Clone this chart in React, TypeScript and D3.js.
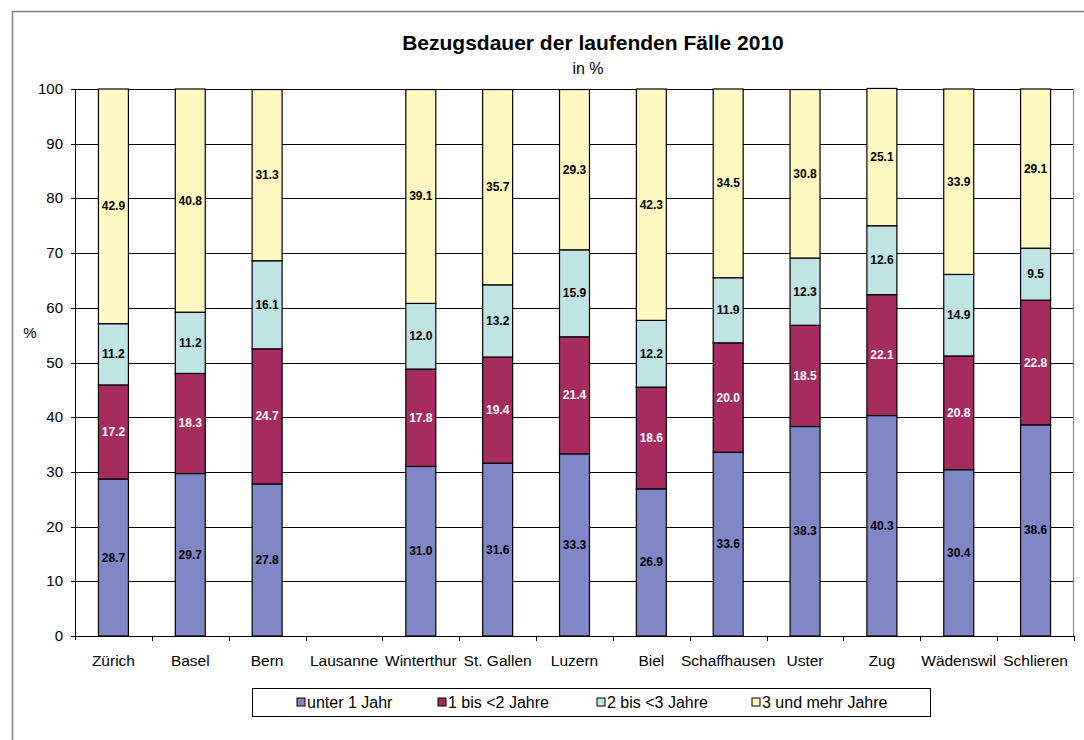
import React from 'react';
import * as d3 from 'd3';

const cities = ['Zürich', 'Basel', 'Bern', 'Lausanne', 'Winterthur', 'St. Gallen', 'Luzern', 'Biel', 'Schaffhausen', 'Uster', 'Zug', 'Wädenswil', 'Schlieren'];
const seriesNames = ['unter 1 Jahr', '1 bis <2 Jahre', '2 bis <3 Jahre', '3 und mehr Jahre'];
const under1 = [28.7, 29.7, 27.8, null, 31.0, 31.6, 33.3, 26.9, 33.6, 38.3, 40.3, 30.4, 38.6];
const y1to2 = [17.2, 18.3, 24.7, null, 17.8, 19.4, 21.4, 18.6, 20.0, 18.5, 22.1, 20.8, 22.8];
const y2to3 = [11.2, 11.2, 16.1, null, 12.0, 13.2, 15.9, 12.2, 11.9, 12.3, 12.6, 14.9, 9.5];
const y3plus = [42.9, 40.8, 31.3, null, 39.1, 35.7, 29.3, 42.3, 34.5, 30.8, 25.1, 33.9, 29.1];
const yTicks = [0, 10, 20, 30, 40, 50, 60, 70, 80, 90, 100];

const colors = ['#8087C6', '#A62B5E', '#C0E3E3', '#FFF8C0'];
const labelColors = ['#000', '#fff', '#000', '#000'];
const font = 'Arial, "Liberation Sans", sans-serif';

const App = () => {
  const left = 75, right = 1074, top = 89, bottom = 636;
  const x = d3.scaleBand<string>().domain(cities).range([left, right]).paddingInner(0.61).paddingOuter(0.305);
  const y = d3.scaleLinear().domain([0, 100]).range([bottom, top]);
  const step = x.step();

  const rows = cities.map((c, i) => ({
    city: c,
    v0: under1[i], v1: y1to2[i], v2: y2to3[i], v3: y3plus[i],
  }));
  const stack = d3.stack<any>().keys(['v0', 'v1', 'v2', 'v3']).value((d, k) => d[k] ?? 0)(rows);

  const legendX = [297, 438, 597, 752];

  return (
    <svg width={1084} height={740} style={{ position: 'absolute', left: 0, top: 0 }} fontFamily={font}>
      <rect x={0} y={0} width={1084} height={740} fill="#fff" />
      <rect x={12.5} y={11.5} width={1100} height={760} fill="none" stroke="#808080" strokeWidth={1.5} />
      <text x={593} y={50} textAnchor="middle" fontSize={21} fontWeight="bold">Bezugsdauer der laufenden Fälle 2010</text>
      <text x={588} y={74} textAnchor="middle" fontSize={16}>in %</text>

      {yTicks.map(t => (
        <g key={t}>
          <line x1={left - 4} x2={right} y1={Math.round(y(t)) + 0.5} y2={Math.round(y(t)) + 0.5} stroke="#000" strokeWidth={1} />
          <text x={63} y={y(t) + 5} textAnchor="end" fontSize={15}>{t}</text>
        </g>
      ))}
      <line x1={right - 0.5} x2={right - 0.5} y1={top} y2={bottom} stroke="#808080" />
      <line x1={left + 0.5} x2={left + 0.5} y1={top} y2={bottom + 4} stroke="#000" />
      {cities.map((c, i) => (
        <line key={c} x1={Math.round(left + step * (i + 1)) + 0.5} x2={Math.round(left + step * (i + 1)) + 0.5} y1={bottom} y2={bottom + 5} stroke="#000" />
      ))}
      <text x={30} y={338} textAnchor="middle" fontSize={15}>%</text>

      {stack.map((s, si) => (
        <g key={si}>
          {s.map((d, i) => {
            const val = [under1, y1to2, y2to3, y3plus][si][i];
            if (val == null) return null;
            const bx = x(cities[i])!;
            const y0 = y(d[0]), y1 = y(d[1]);
            return (
              <g key={i}>
                <rect x={bx} y={y1} width={x.bandwidth()} height={y0 - y1} fill={colors[si]} stroke="#000" strokeWidth={1.2} />
                <text x={bx + x.bandwidth() / 2} y={(y0 + y1) / 2 + 4} textAnchor="middle" fontSize={12} fontWeight="bold" fill={labelColors[si]}>{val.toFixed(1)}</text>
              </g>
            );
          })}
        </g>
      ))}

      {cities.map(c => (
        <text key={c} x={x(c)! + x.bandwidth() / 2} y={666} textAnchor="middle" fontSize={15.5}>{c}</text>
      ))}

      <rect x={252.5} y={688.5} width={678} height={28} fill="#fff" stroke="#000" />
      {seriesNames.map((n, i) => (
        <g key={n}>
          <rect x={legendX[i]} y={698} width={8} height={8} fill={colors[i]} stroke="#000" />
          <text x={legendX[i] + 10} y={708} fontSize={16}>{n}</text>
        </g>
      ))}
    </svg>
  );
};

export default App;
